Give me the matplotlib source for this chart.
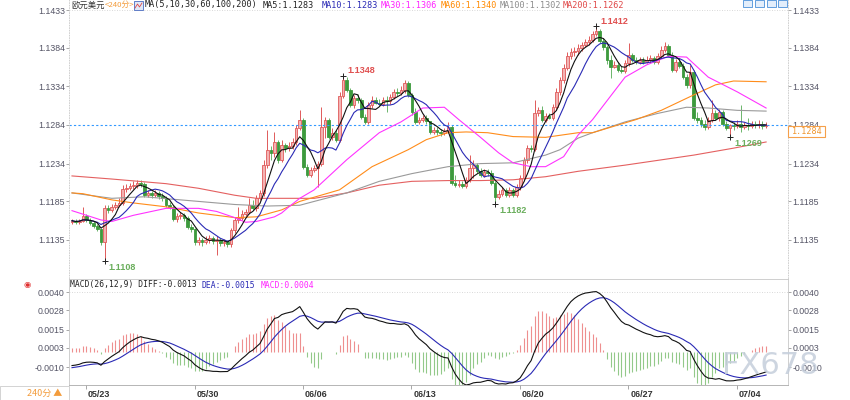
import numpy as np
import pandas as pd
import matplotlib
matplotlib.use('Agg')
import matplotlib.pyplot as plt
from matplotlib.patches import Rectangle
from matplotlib.transforms import ScaledTranslation

plt.rcParams['font.family'] = ['Liberation Sans', 'DejaVu Sans']

# ---------------- data (EUR/USD, 240-minute candles) ----------------
opens = [
    1.1158, 1.1160, 1.1158, 1.1160, 1.1166, 1.1161,
    1.1157, 1.1153, 1.1149, 1.1132, 1.1176, 1.1174,
    1.1178, 1.1180, 1.1183, 1.1201, 1.1202, 1.1205,
    1.1206, 1.1209, 1.1208, 1.1193, 1.1196, 1.1193,
    1.1196, 1.1192, 1.1189, 1.1180, 1.1178, 1.1162,
    1.1166, 1.1167, 1.1164, 1.1152, 1.1149, 1.1132,
    1.1135, 1.1132, 1.1135, 1.1138, 1.1134, 1.1135,
    1.1131, 1.1132, 1.1130, 1.1148, 1.1161, 1.1164,
    1.1169, 1.1171, 1.1180, 1.1176, 1.1189, 1.1196,
    1.1232, 1.1252, 1.1248, 1.1262, 1.1239, 1.1258,
    1.1254, 1.1257, 1.1262, 1.1280, 1.1291, 1.1230,
    1.1219, 1.1226, 1.1228, 1.1233, 1.1281, 1.1291,
    1.1268, 1.1274, 1.1265, 1.1322, 1.1342, 1.1329,
    1.1310, 1.1319, 1.1316, 1.1294, 1.1288, 1.1310,
    1.1316, 1.1313, 1.1311, 1.1316, 1.1315, 1.1320,
    1.1327, 1.1325, 1.1329, 1.1338, 1.1323, 1.1301,
    1.1288, 1.1291, 1.1293, 1.1289, 1.1275, 1.1278,
    1.1275, 1.1274, 1.1276, 1.1281, 1.1209, 1.1206,
    1.1208, 1.1205, 1.1213, 1.1228, 1.1232, 1.1224,
    1.1219, 1.1223, 1.1222, 1.1209, 1.1191, 1.1195,
    1.1200, 1.1193, 1.1200, 1.1193, 1.1204, 1.1215,
    1.1239, 1.1254, 1.1253, 1.1300, 1.1303, 1.1291,
    1.1296, 1.1293, 1.1307, 1.1327, 1.1342, 1.1358,
    1.1373, 1.1379, 1.1380, 1.1384, 1.1388, 1.1392,
    1.1394, 1.1402, 1.1406, 1.1393, 1.1385, 1.1368,
    1.1359, 1.1362, 1.1355, 1.1354, 1.1364, 1.1375,
    1.1368, 1.1366, 1.1368, 1.1366, 1.1368, 1.1371,
    1.1366, 1.1373, 1.1381, 1.1386, 1.1375, 1.1355,
    1.1366, 1.1360, 1.1346, 1.1336, 1.1353, 1.1293,
    1.1291, 1.1285, 1.1281, 1.1291, 1.1300, 1.1293,
    1.1301, 1.1285, 1.1280, 1.1284, 1.1283, 1.1285,
    1.1281, 1.1284, 1.1283, 1.1285, 1.1284, 1.1285,
    1.1283,
]
highs = [
    1.1162, 1.1162, 1.1162, 1.1178, 1.1169, 1.1164,
    1.1160, 1.1156, 1.1151, 1.1180, 1.1180, 1.1182,
    1.1184, 1.1189, 1.1206, 1.1208, 1.1209, 1.1211,
    1.1213, 1.1213, 1.1210, 1.1200, 1.1198, 1.1200,
    1.1198, 1.1196, 1.1192, 1.1184, 1.1180, 1.1170,
    1.1171, 1.1170, 1.1166, 1.1156, 1.1151, 1.1139,
    1.1138, 1.1140, 1.1141, 1.1140, 1.1140, 1.1138,
    1.1136, 1.1135, 1.1151, 1.1165, 1.1178, 1.1174,
    1.1175, 1.1189, 1.1187, 1.1193, 1.1200, 1.1239,
    1.1278, 1.1257, 1.1275, 1.1265, 1.1265, 1.1261,
    1.1262, 1.1267, 1.1284, 1.1303, 1.1293, 1.1233,
    1.1230, 1.1232, 1.1237, 1.1307, 1.1294, 1.1293,
    1.1280, 1.1278, 1.1327, 1.1348, 1.1346, 1.1332,
    1.1323, 1.1324, 1.1319, 1.1298, 1.1314, 1.1322,
    1.1320, 1.1318, 1.1320, 1.1322, 1.1324, 1.1331,
    1.1332, 1.1335, 1.1342, 1.1341, 1.1325, 1.1306,
    1.1294, 1.1297, 1.1297, 1.1289, 1.1281, 1.1281,
    1.1279, 1.1280, 1.1288, 1.1284, 1.1219, 1.1213,
    1.1211, 1.1217, 1.1245, 1.1239, 1.1235, 1.1228,
    1.1227, 1.1227, 1.1226, 1.1211, 1.1200, 1.1204,
    1.1202, 1.1204, 1.1202, 1.1208, 1.1219, 1.1243,
    1.1258, 1.1258, 1.1316, 1.1307, 1.1309, 1.1300,
    1.1300, 1.1311, 1.1332, 1.1346, 1.1363, 1.1379,
    1.1384, 1.1385, 1.1389, 1.1392, 1.1395, 1.1399,
    1.1406, 1.1412, 1.1408, 1.1397, 1.1388, 1.1375,
    1.1367, 1.1366, 1.1360, 1.1368, 1.1390, 1.1377,
    1.1372, 1.1372, 1.1372, 1.1373, 1.1375, 1.1373,
    1.1377, 1.1386, 1.1392, 1.1389, 1.1379, 1.1370,
    1.1371, 1.1364, 1.1350, 1.1362, 1.1355, 1.1301,
    1.1294, 1.1291, 1.1294, 1.1316, 1.1303, 1.1305,
    1.1303, 1.1289, 1.1285, 1.1288, 1.1291, 1.1310,
    1.1288, 1.1293, 1.1289, 1.1289, 1.1291, 1.1289,
    1.1288,
]
lows = [
    1.1156, 1.1156, 1.1156, 1.1158, 1.1158, 1.1154,
    1.1151, 1.1147, 1.1129, 1.1108, 1.1170, 1.1171,
    1.1175, 1.1178, 1.1180, 1.1197, 1.1200, 1.1201,
    1.1202, 1.1204, 1.1191, 1.1191, 1.1189, 1.1191,
    1.1188, 1.1186, 1.1178, 1.1175, 1.1160, 1.1158,
    1.1162, 1.1160, 1.1149, 1.1145, 1.1129, 1.1129,
    1.1127, 1.1130, 1.1131, 1.1130, 1.1116, 1.1127,
    1.1127, 1.1126, 1.1126, 1.1144, 1.1157, 1.1161,
    1.1166, 1.1169, 1.1174, 1.1173, 1.1187, 1.1192,
    1.1228, 1.1239, 1.1243, 1.1235, 1.1236, 1.1249,
    1.1250, 1.1253, 1.1258, 1.1278, 1.1227, 1.1217,
    1.1217, 1.1223, 1.1204, 1.1231, 1.1267, 1.1266,
    1.1265, 1.1262, 1.1262, 1.1319, 1.1327, 1.1307,
    1.1306, 1.1313, 1.1292, 1.1285, 1.1285, 1.1306,
    1.1311, 1.1309, 1.1309, 1.1301, 1.1311, 1.1318,
    1.1322, 1.1323, 1.1325, 1.1320, 1.1297, 1.1285,
    1.1285, 1.1288, 1.1285, 1.1272, 1.1272, 1.1271,
    1.1270, 1.1271, 1.1274, 1.1206, 1.1204, 1.1204,
    1.1202, 1.1202, 1.1210, 1.1215, 1.1222, 1.1217,
    1.1217, 1.1218, 1.1206, 1.1182, 1.1188, 1.1192,
    1.1191, 1.1191, 1.1191, 1.1191, 1.1200, 1.1211,
    1.1235, 1.1249, 1.1250, 1.1296, 1.1288, 1.1288,
    1.1292, 1.1291, 1.1303, 1.1323, 1.1338, 1.1355,
    1.1370, 1.1373, 1.1375, 1.1380, 1.1385, 1.1388,
    1.1392, 1.1399, 1.1390, 1.1381, 1.1363, 1.1345,
    1.1358, 1.1353, 1.1351, 1.1351, 1.1360, 1.1366,
    1.1363, 1.1363, 1.1363, 1.1364, 1.1364, 1.1363,
    1.1363, 1.1371, 1.1379, 1.1372, 1.1353, 1.1353,
    1.1358, 1.1344, 1.1332, 1.1332, 1.1291, 1.1287,
    1.1281, 1.1278, 1.1279, 1.1288, 1.1291, 1.1289,
    1.1283, 1.1278, 1.1269, 1.1278, 1.1280, 1.1275,
    1.1279, 1.1278, 1.1280, 1.1280, 1.1280, 1.1279,
    1.1280,
]
closes = [
    1.1160, 1.1158, 1.1160, 1.1166, 1.1161, 1.1157,
    1.1153, 1.1149, 1.1132, 1.1176, 1.1174, 1.1178,
    1.1180, 1.1183, 1.1201, 1.1202, 1.1205, 1.1206,
    1.1209, 1.1208, 1.1193, 1.1196, 1.1193, 1.1196,
    1.1192, 1.1189, 1.1180, 1.1178, 1.1162, 1.1166,
    1.1167, 1.1164, 1.1152, 1.1149, 1.1132, 1.1135,
    1.1132, 1.1135, 1.1138, 1.1134, 1.1135, 1.1131,
    1.1132, 1.1130, 1.1148, 1.1161, 1.1164, 1.1169,
    1.1171, 1.1180, 1.1176, 1.1189, 1.1196, 1.1232,
    1.1252, 1.1248, 1.1262, 1.1239, 1.1258, 1.1254,
    1.1257, 1.1262, 1.1280, 1.1291, 1.1230, 1.1219,
    1.1226, 1.1228, 1.1233, 1.1281, 1.1291, 1.1268,
    1.1274, 1.1265, 1.1322, 1.1342, 1.1329, 1.1310,
    1.1319, 1.1316, 1.1294, 1.1288, 1.1310, 1.1316,
    1.1313, 1.1311, 1.1316, 1.1315, 1.1320, 1.1327,
    1.1325, 1.1329, 1.1338, 1.1323, 1.1301, 1.1288,
    1.1291, 1.1293, 1.1289, 1.1275, 1.1278, 1.1275,
    1.1274, 1.1276, 1.1281, 1.1209, 1.1206, 1.1208,
    1.1205, 1.1213, 1.1228, 1.1232, 1.1224, 1.1219,
    1.1223, 1.1222, 1.1209, 1.1191, 1.1195, 1.1200,
    1.1193, 1.1200, 1.1193, 1.1204, 1.1215, 1.1239,
    1.1254, 1.1253, 1.1300, 1.1303, 1.1291, 1.1296,
    1.1293, 1.1307, 1.1327, 1.1342, 1.1358, 1.1373,
    1.1379, 1.1380, 1.1384, 1.1388, 1.1392, 1.1394,
    1.1402, 1.1406, 1.1393, 1.1385, 1.1368, 1.1359,
    1.1362, 1.1355, 1.1354, 1.1364, 1.1375, 1.1368,
    1.1366, 1.1368, 1.1366, 1.1368, 1.1371, 1.1366,
    1.1373, 1.1381, 1.1386, 1.1375, 1.1355, 1.1366,
    1.1360, 1.1346, 1.1336, 1.1353, 1.1293, 1.1291,
    1.1285, 1.1281, 1.1291, 1.1300, 1.1293, 1.1301,
    1.1285, 1.1280, 1.1284, 1.1283, 1.1285, 1.1281,
    1.1284, 1.1283, 1.1285, 1.1284, 1.1285, 1.1283,
    1.1284,
]

# slower moving averages (candle index, value)
ma30_at = [0, 8, 11, 17, 26, 35, 40, 45, 48, 51, 56, 58, 60, 63, 67, 76, 85, 91, 97,
           103, 107, 113, 118, 122, 127, 131, 136, 140, 144, 153, 159, 165, 170, 176, 184, 192]
ma30 = [1.1173, 1.1161, 1.1159, 1.1167, 1.1176, 1.1176, 1.1172, 1.1164, 1.1158, 1.1159,
        1.1165, 1.1170, 1.1178, 1.1189, 1.1200, 1.1239, 1.1274, 1.1288, 1.1306, 1.1307,
        1.1291, 1.1268, 1.1248, 1.1235, 1.1230, 1.1230, 1.1243, 1.1271, 1.1291, 1.1346,
        1.1362, 1.1373, 1.1372, 1.1346, 1.1327, 1.1306]
ma60_at = [0, 3, 11, 17, 26, 35, 45, 51, 58, 63, 74, 83, 93, 98, 104, 109, 115, 122,
           131, 140, 144, 156, 163, 172, 178, 183, 192]
ma60 = [1.1196, 1.1195, 1.1187, 1.1183, 1.1178, 1.1170, 1.1164, 1.1165, 1.1174, 1.1185,
        1.1200, 1.1230, 1.1252, 1.1265, 1.1274, 1.1275, 1.1274, 1.1269, 1.1268, 1.1274,
        1.1274, 1.1291, 1.1303, 1.1323, 1.1336, 1.1341, 1.1340]
ma100_at = [0, 11, 20, 35, 45, 54, 63, 67, 76, 85, 94, 104, 113, 122, 131, 135, 140,
            144, 153, 162, 170, 176, 184, 192]
ma100 = [1.1196, 1.1189, 1.1191, 1.1185, 1.1181, 1.1179, 1.1180, 1.1185, 1.1196, 1.1211,
         1.1221, 1.1230, 1.1234, 1.1235, 1.1245, 1.1252, 1.1267, 1.1274, 1.1288, 1.1299,
         1.1307, 1.1306, 1.1303, 1.1302]
ma200_at = [0, 11, 26, 35, 45, 51, 58, 67, 76, 85, 94, 104, 113, 122, 131, 140, 153,
            172, 183, 192]
ma200 = [1.1218, 1.1214, 1.1208, 1.1202, 1.1193, 1.1189, 1.1189, 1.1189, 1.1196, 1.1206,
         1.1211, 1.1212, 1.1212, 1.1213, 1.1217, 1.1224, 1.1232, 1.1245, 1.1254, 1.1262]

# MACD state just before the first visible candle
macd_start = [1.1163, 1.11725, -0.00108]   # EMA12, EMA26, DEA

date_at = [4, 34, 64, 94, 124, 154, 184]
date_labels = ['05/23', '05/30', '06/06', '06/13', '06/20', '06/27', '07/04']
price_ticks = [1.1135, 1.1185, 1.1234, 1.1284, 1.1334, 1.1384, 1.1433]
macd_ticks = [-0.0010, 0.0003, 0.0015, 0.0028, 0.0040]
last_price = 1.1284
extreme_at = [9, 75, 117, 145, 182]
extreme_kind = ['low', 'high', 'low', 'high', 'low']

legend_main = [('MA5:1.1283', '#222222'), ('MA10:1.1283', '#2a2ab5'),
               ('MA30:1.1306', '#ff22ff'), ('MA60:1.1340', '#ff8a00'),
               ('MA100:1.1302', '#8c8c8c'), ('MA200:1.1262', '#e04848')]
legend_macd = [('MACD(26,12,9) DIFF:-0.0013', '#222222'), ('DEA:-0.0015', '#2a2ab5'),
               ('MACD:0.0004', '#ff22ff')]

# ---------------- figure ----------------
W, H = 850, 400
fig = plt.figure(figsize=(W / 100, H / 100), dpi=100)
fig.patch.set_facecolor('white')


def fx(px):
    return px / W


def fy(py):
    return 1 - py / H


L_PX, R_PX = 69, 788
ax = fig.add_axes([fx(L_PX), fy(278), (R_PX - L_PX) / W, 278 / H])
ax2 = fig.add_axes([fx(L_PX), fy(385), (R_PX - L_PX) / W, (385 - 279) / H])

n = len(closes)
xi = np.arange(n)
XLIM = (-0.83, 198.06)

UP_EDGE, UP_FACE = '#e05a5a', '#f3b3b3'
DN_COL, DN_WICK = '#3d9a3d', '#6bb56b'

for i in range(n):
    o, h, l, c = opens[i], highs[i], lows[i], closes[i]
    if c >= o:
        ax.vlines(i, l, h, color=UP_EDGE, lw=0.7, zorder=2)
        ax.add_patch(Rectangle((i - 0.36, o), 0.72, max(c - o, 0.00003),
                               fc=UP_FACE, ec=UP_EDGE, lw=0.6, zorder=2.1))
    else:
        ax.vlines(i, l, h, color=DN_WICK, lw=0.7, zorder=2)
        ax.add_patch(Rectangle((i - 0.36, c), 0.72, o - c,
                               fc=DN_COL, ec=DN_COL, lw=0.6, zorder=2.1))

cs = pd.Series(closes)
ma5 = cs.rolling(5, min_periods=1).mean()
ma10 = cs.rolling(10, min_periods=1).mean()

ax.plot(ma200_at, ma200, color='#e46060', lw=0.8, zorder=3)
ax.plot(ma100_at, ma100, color='#9a9a9a', lw=0.8, zorder=3)
ax.plot(ma60_at, ma60, color='#ff8c1a', lw=0.8, zorder=3)
ax.plot(ma30_at, ma30, color='#ff33ff', lw=0.8, zorder=3)
ax.plot(xi, ma10, color='#2a2ab5', lw=0.8, zorder=3.2)
ax.plot(xi, ma5, color='#111111', lw=0.8, zorder=3.3)

ax.axhline(last_price, color='#3399ff', lw=0.8, ls=(0, (2, 2)), zorder=2.5)
ax.axhline(price_ticks[-1], color='#cccccc', lw=0.6, ls=(0, (1, 2)), zorder=1)

# extreme markers
for k, kind in zip(extreme_at, extreme_kind):
    if kind == 'low':
        val = lows[k]
        col = '#6aae5c'
        off = (4, -7)
    else:
        val = highs[k]
        col = '#e05050'
        off = (4, 5)
    ax.plot([k], [val], marker='+', ms=4, mew=0.7, color='#222222', zorder=4)
    ax.annotate(f'{val:.4f}', xy=(k, val), xytext=off, textcoords='offset pixels',
                ha='left', va='center', fontsize=6.5, fontweight='bold', color=col,
                zorder=5)

ax.set_xlim(*XLIM)
ax.set_ylim(1.108576, 1.144596)
ax.set_xticks([])
ax.set_yticks(price_ticks)
ax.set_yticklabels([f'{v:.4f}' for v in price_ticks])
ax.yaxis.set_ticks_position('both')
ax.tick_params(axis='y', left=True, right=True, labelleft=True, labelright=True,
               length=2, width=0.6, color='#999999', labelsize=6.3,
               labelcolor='#555566', pad=1)
for s in ['top', 'bottom']:
    ax.spines[s].set_visible(False)
for s in ['left', 'right']:
    ax.spines[s].set_color('#c8c8c8')
    ax.spines[s].set_linewidth(0.6)
    ax.spines[s].set_linestyle((0, (1, 2)))

# ---------------- MACD ----------------
a12, a26, a9 = 2 / 13, 2 / 27, 2 / 10
e12, e26, dea = macd_start
diff_v, dea_v = [], []
for c in closes:
    e12 = a12 * c + (1 - a12) * e12
    e26 = a26 * c + (1 - a26) * e26
    d = e12 - e26
    dea = a9 * d + (1 - a9) * dea
    diff_v.append(d)
    dea_v.append(dea)
diff_v = np.array(diff_v)
dea_v = np.array(dea_v)
hist = 2 * (diff_v - dea_v)

ax2.vlines(xi, 0, hist, colors=np.where(hist >= 0, '#ee8f8f', '#93c98a'), lw=0.8,
           zorder=2)
ax2.plot(xi, dea_v, color='#2a2ab5', lw=0.8, zorder=3)
ax2.plot(xi, diff_v, color='#111111', lw=0.8, zorder=3.2)
ax2.axhline(macd_ticks[-1], color='#cccccc', lw=0.6, ls=(0, (1, 2)), zorder=1)

ax2.set_xlim(*XLIM)
ax2.set_ylim(-0.0022, 0.0048667)
ax2.set_yticks(macd_ticks)
ax2.set_yticklabels([f'{v:.4f}' for v in macd_ticks])
ax2.yaxis.set_ticks_position('both')
ax2.tick_params(axis='y', left=True, right=True, labelleft=True, labelright=True,
                length=2, width=0.6, color='#999999', labelsize=6.3,
                labelcolor='#555566', pad=1)
ax2.set_xticks([d - 0.1 for d in date_at])
ax2.set_xticklabels(date_labels)
ax2.tick_params(axis='x', length=3, width=0.6, color='#999999', labelsize=6.5,
                labelcolor='#333333', pad=0.5)
for lab in ax2.get_xticklabels():
    lab.set_horizontalalignment('left')
    lab.set_fontweight('bold')
    lab.set_transform(lab.get_transform() + ScaledTranslation(2 / 100, 0, fig.dpi_scale_trans))
for s in ax2.spines.values():
    s.set_color('#c8c8c8')
    s.set_linewidth(0.6)
ax2.spines['bottom'].set_color('#aaaaaa')

# ---------------- header texts ----------------
MONO = 'DejaVu Sans Mono'
fig.text(fx(71), fy(5), '欧元美元', fontsize=6.0, family=['Noto Sans CJK SC'],
         va='center', ha='left', color='#333333')
fig.text(fx(104.5), fy(5), '<240分>', fontsize=5.6, family=['Noto Sans CJK SC', 'DejaVu Sans'],
         va='center', ha='left', color='#f39c3c')
fig.patches.append(Rectangle((fx(134), fy(10)), 9 / W, 9 / H, transform=fig.transFigure,
                             fc='#dfe8f8', ec='#4a6bc0', lw=0.6, zorder=5))
fig.lines.append(plt.Line2D([fx(135), fx(137.5), fx(139.5), fx(142)],
                            [fy(8), fy(4), fy(7), fy(3)], transform=fig.transFigure,
                            color='#e04848', lw=0.6, zorder=6))
fig.text(fx(145), fy(5), 'MA(5,10,30,60,100,200)', fontsize=6.1, family=MONO,
         va='center', ha='left', color='#222222')
for (txt, col), xp in zip(legend_main, [263, 322, 381, 441, 500, 563]):
    fig.text(fx(xp), fy(5), txt, fontsize=6.1, family=MONO, va='center', ha='left', color=col)

for (txt, col), xp in zip(legend_macd, [70, 201, 261]):
    fig.text(fx(xp), fy(285), txt, fontsize=5.8, family=MONO, va='center', ha='left', color=col)
fig.text(fx(27), fy(285), '◉', fontsize=6, family='DejaVu Sans', va='center', ha='center',
         color='#e03030')

# top-right tool icons
for xp in [743, 755, 767, 778]:
    fig.patches.append(Rectangle((fx(xp), fy(7)), 9 / W, 7 / H, transform=fig.transFigure,
                                 fc='#e3eefb', ec='#4a90d9', lw=0.6, zorder=5))

# current price tag on the right
fig.patches.append(Rectangle((fx(788), fy(136.5)), 37 / W, 10.5 / H, transform=fig.transFigure,
                             fc='white', ec='#f5a04a', lw=0.8, zorder=5))
fig.text(fx(806.5), fy(131.5), f'{last_price:.4f}', fontsize=6.1, family=MONO,
         va='center', ha='center', color='#f0962e', zorder=6)

# bottom-left period box
fig.patches.append(Rectangle((fx(0), fy(400)), 69 / W, 14 / H, transform=fig.transFigure,
                             fc='white', ec='#cccccc', lw=0.6, zorder=5))
fig.text(fx(27), fy(393), '240分 ▲', fontsize=6.5, family=['Noto Sans CJK SC', 'DejaVu Sans'],
         va='center', ha='left', color='#f39c3c', zorder=6)

# watermark
fig.text(fx(770), fy(366), 'FX678', fontsize=22, family='DejaVu Sans', ha='center',
         va='center', color='#c5cedb', alpha=0.85, zorder=10)

fig.savefig('out.png', dpi=100, facecolor='white')
